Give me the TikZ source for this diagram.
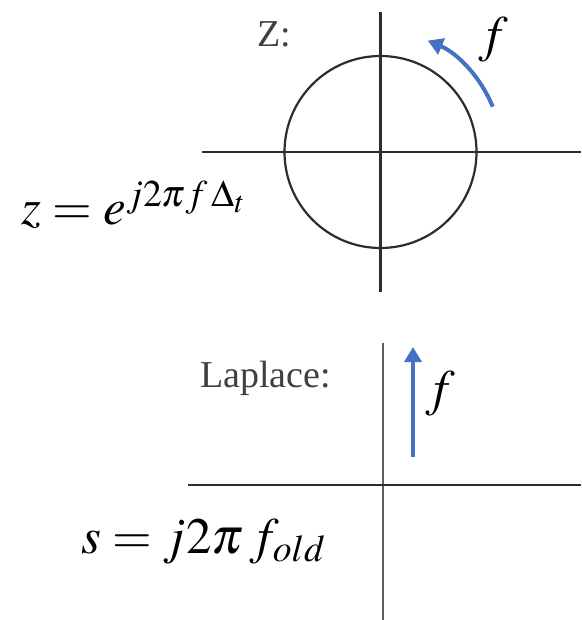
\documentclass[tikz,border=0pt]{standalone}
\usepackage{mathptmx}
\usepackage[no-math]{fontspec}
\setmainfont{Liberation Serif}
\usetikzlibrary{arrows.meta}
\definecolor{axisgray}{RGB}{45,45,45}
\definecolor{softgray}{RGB}{95,95,95}
\definecolor{fblue}{RGB}{68,114,196}
\tikzset{
    axis/.style={draw=#1,line width=2.6pt},
    axis/.default=axisgray,
    freq/.style={-{Triangle[length=15pt,width=17pt]},draw=fblue,line width=4pt},
    tag/.style={inner sep=0pt,anchor=base west,text=black!75,font=\fontsize{38}{40}\selectfont},
    eqn/.style={inner sep=0pt,anchor=base west,font=\fontsize{51}{54}\selectfont}
}

\begin{document}
\begin{tikzpicture}[x=1pt,y=-1pt]
\useasboundingbox (0,0) rectangle (581,620);

% z-plane
\coordinate (zc) at (380.5,152);
\draw[axis] (380.5,12) -- (380.5,292);
\draw[axis] (202,152) -- (581,152);
\draw[axis,line width=2.2pt] (zc) circle[radius=96];
\node[tag] (zlabel) at (257,47) {Z:};
\draw[freq] ([shift={(-22:121)}]zc) arc[start angle=-22,end angle=-67,radius=121];
\node[eqn] (zf) at (479,52) {$f$};
\node[eqn] (zeq) at (21,225) {$z=e^{j2\pi f\,\Delta_t}$};

% Laplace plane
\draw[axis=softgray] (383,343) -- (383,620);
\draw[axis] (188,485) -- (581,485);
\node[tag] (slabel) at (200,387) {Laplace:};
\coordinate (ftail) at (413,457);
\coordinate (fhead) at (413,347);
\draw[freq] (ftail) -- (fhead);
\node[eqn] (sf) at (426,405) {$f$};
\node[eqn] (seq) at (81,553) {$s=j2\pi\,f_{old}$};
\end{tikzpicture}
\end{document}
